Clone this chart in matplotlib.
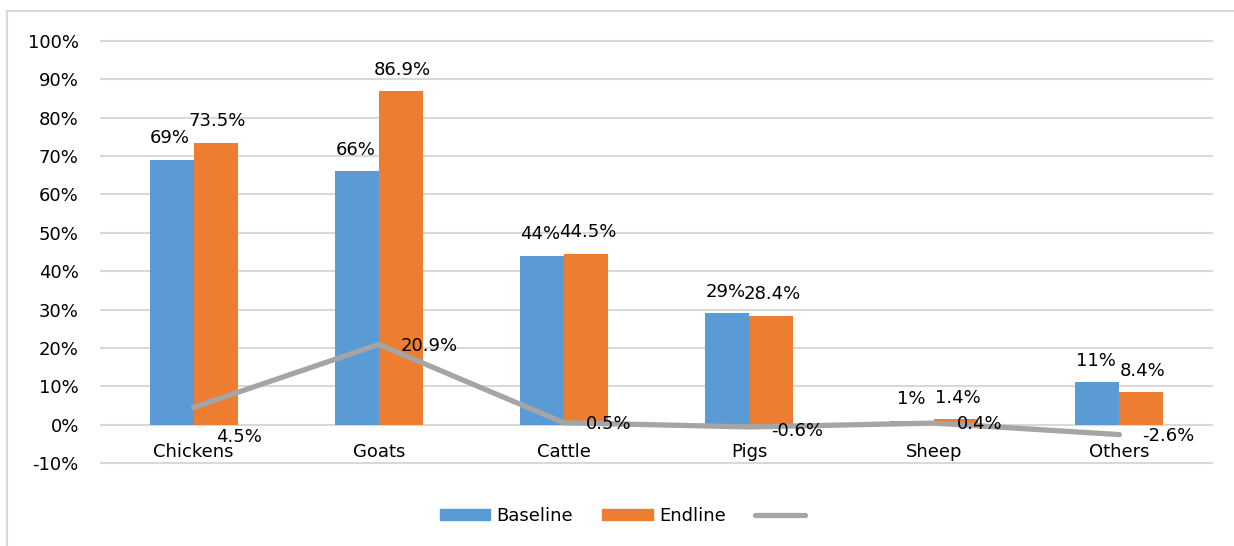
import numpy as np
import matplotlib
matplotlib.use("Agg")
import matplotlib.pyplot as plt
from matplotlib.patches import Rectangle
from matplotlib.lines import Line2D

# data
categories = ["Chickens", "Goats", "Cattle", "Pigs", "Sheep", "Others"]
baseline = [69, 66, 44, 29, 1, 11]
endline = [73.5, 86.9, 44.5, 28.4, 1.4, 8.4]
change = [4.5, 20.9, 0.5, -0.6, 0.4, -2.6]
baseline_labels = ["69%", "66%", "44%", "29%", "1%", "11%"]
endline_labels = ["73.5%", "86.9%", "44.5%", "28.4%", "1.4%", "8.4%"]
change_labels = ["4.5%", "20.9%", "0.5%", "-0.6%", "0.4%", "-2.6%"]
yticks = list(range(-10, 101, 10))

blue = "#5B9BD5"
orange = "#ED7D31"
grey = "#A5A5A5"
fs = 13

fig = plt.figure(figsize=(12.34, 5.46), dpi=100)
# outer frame of the chart
fig.patches.append(Rectangle((7 / 1234, -0.1), 1.1, 0.1 + (546 - 11) / 546,
                             transform=fig.transFigure, fill=False,
                             edgecolor="#d9d9d9", linewidth=1.5))

ax = fig.add_axes([101 / 1234, 83 / 546, 1111 / 1234, 422 / 546])
x = np.arange(len(categories))
w = 0.238

ax.bar(x - w / 2, baseline, w, color=blue, zorder=2)
ax.bar(x + w / 2, endline, w, color=orange, zorder=2)
ax.plot(x, change, color=grey, linewidth=3.8, solid_capstyle="round",
        solid_joinstyle="round", zorder=3)

for i in range(len(categories)):
    ax.annotate(baseline_labels[i], (x[i] - w / 2, baseline[i]), xytext=(-1, 9),
                textcoords="offset points", ha="center", va="bottom", fontsize=fs)
    ax.annotate(endline_labels[i], (x[i] + w / 2, endline[i]), xytext=(1, 9),
                textcoords="offset points", ha="center", va="bottom", fontsize=fs)

# line labels sit to the right of each point; the first one was pushed down
dy = [-21, -1, -1, -3, -1, -1]
for i in range(len(categories)):
    ax.annotate(change_labels[i], (x[i], change[i]), xytext=(16, dy[i]),
                textcoords="offset points", ha="left", va="center", fontsize=fs,
                zorder=4)

ax.set_xlim(-0.5, len(categories) - 0.5)
ax.set_ylim(-10, 100)
ax.set_yticks(yticks)
ax.set_yticklabels([f"{t}%" for t in yticks])
ax.set_xticks(x)
ax.set_xticklabels(categories)
ax.tick_params(axis="both", length=0, labelsize=fs)
ax.tick_params(axis="y", pad=16)
ax.tick_params(axis="x", pad=13)
ax.spines["bottom"].set_position(("data", 0))
for s in ax.spines.values():
    s.set_visible(False)
ax.yaxis.grid(True, color="#d9d9d9", linewidth=1.5)
for gl in ax.get_ygridlines():
    gl.set_clip_on(False)
ax.set_axisbelow(True)

handles = [Rectangle((0, 0), 1, 1, color=blue), Rectangle((0, 0), 1, 1, color=orange),
           Line2D([0], [0], color=grey, linewidth=3.8, solid_capstyle="round")]
fig.legend(handles, ["Baseline", "Endline", ""], loc="center",
           bbox_to_anchor=(0.507, 0.055), ncol=3, frameon=False, fontsize=fs,
           handlelength=2.8, handleheight=0.6, handletextpad=0.35,
           columnspacing=1.6)

fig.savefig("out.png", dpi=100)
